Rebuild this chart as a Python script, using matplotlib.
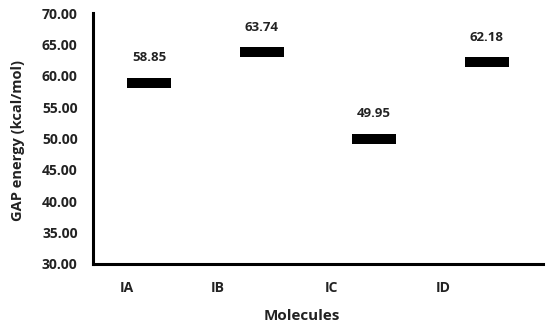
import matplotlib.pyplot as plt
import numpy as np

plt.rcParams['font.family'] = ['Open Sans', 'DejaVu Sans']

# Data
molecules = ['IA', 'IB', 'IC', 'ID']
gap_energy = [58.85, 63.74, 49.95, 62.18]
value_labels = ['58.85', '63.74', '49.95', '62.18']
y_ticks = [30, 35, 40, 45, 50, 55, 60, 65, 70]

fig = plt.figure(figsize=(5.5, 3.27), dpi=100)
ax = fig.add_axes([0.169, 0.193, 0.818, 0.767])

x = np.arange(len(molecules))
vals = np.array(gap_energy)

# dash markers drawn as thin bars centred on each value
dash_h = 1.6
ax.bar(x, dash_h, bottom=vals - dash_h / 2, width=0.39, color='black')

for xi, v, lab in zip(x, vals, value_labels):
    ax.annotate(lab, (xi, v), xytext=(0, 18), textcoords='offset points',
                ha='center', va='center', fontsize=9.5, fontweight='bold',
                color='#222222')

ax.set_xlim(-0.5, 3.5)
ax.set_ylim(30, 70)
ax.set_yticks(y_ticks)
ax.set_yticklabels([f'{t:.2f}' for t in y_ticks])

# category labels sit left of the dashes, like in the original Excel chart
ax.set_xticks([-0.2, 0.61, 1.62, 2.61])
ax.set_xticklabels(molecules)

ax.tick_params(axis='both', length=0, labelsize=10)
ax.tick_params(axis='y', pad=11)
ax.tick_params(axis='x', pad=12)
for lab in ax.get_xticklabels() + ax.get_yticklabels():
    lab.set_fontweight('bold')
    lab.set_color('#222222')

ax.spines['top'].set_visible(False)
ax.spines['right'].set_visible(False)
ax.spines['left'].set_linewidth(2.2)
ax.spines['bottom'].set_linewidth(2.2)

ax.set_ylabel('GAP energy (kcal/mol)', fontsize=10.5, fontweight='bold',
              color='#222222')
ax.yaxis.set_label_coords(-0.15, 0.49)
ax.set_xlabel('Molecules', fontsize=11, fontweight='bold', color='#222222')
ax.xaxis.set_label_coords(0.465, -0.18)

fig.savefig('out.png', dpi=100)
